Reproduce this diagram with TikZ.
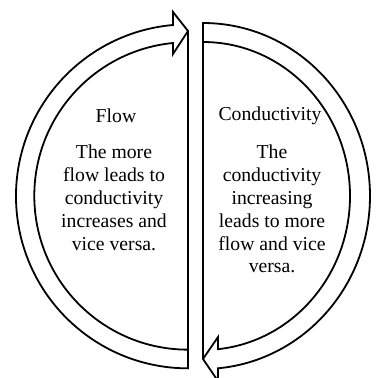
\documentclass[tikz,border=0pt]{standalone}
\usepackage{fontspec}
\setmainfont{Liberation Serif}
\tikzset{
  loop line/.style={draw=black,line width=1.8pt},
  loop title/.style={font=\fontsize{19.7}{22.8}\selectfont,inner sep=0pt},
  loop body/.style={font=\fontsize{19.7}{22.8}\selectfont,align=center,inner sep=0pt,anchor=north}
}
\begin{document}
\begin{tikzpicture}[x=1pt,y=1pt]
  \useasboundingbox (0,0) rectangle (376,378);
  % left half, arrow pointing right at the top
  \draw[loop line] (188,347)--(173,366)--(173,353)
    arc[start angle=95,end angle=270,radius=172]--cycle;
  \draw[loop line] (188,347)--(173,324)--(173,335)
    arc[start angle=95.6,end angle=270,radius=153.7];
  % right half, arrow pointing left at the bottom
  \draw[loop line] (203,19)--(203,355)
    arc[start angle=90,end angle=-84.85,x radius=167,y radius=173]--(218,-3)--cycle;
  \draw[loop line] (203,336)
    arc[start angle=90,end angle=-84.1,x radius=147,y radius=154]--(218,41)--(203,19);
  \node[loop title] (flowttl) at (116,262) {Flow};
  \node[loop title] (condttl) at (270,262) {Conductivity};
  \node[loop body] (flowtxt) at (114,233) {The more\\flow leads to\\conductivity\\increases and\\vice versa.};
  \node[loop body] (condtxt) at (272,233) {The\\conductivity\\increasing\\leads to more\\flow and vice\\versa.};
\end{tikzpicture}
\end{document}
